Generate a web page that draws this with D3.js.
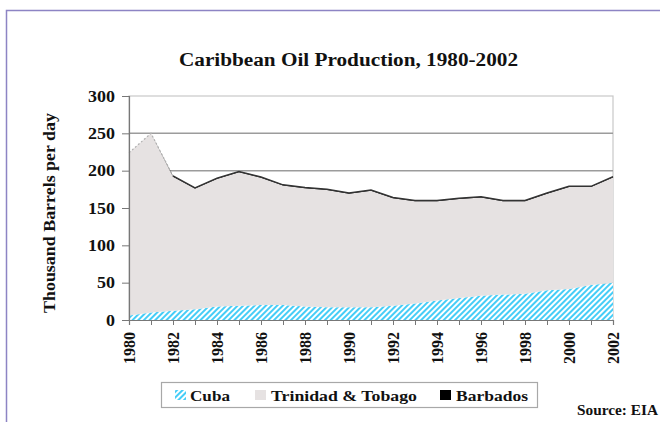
<!DOCTYPE html>
<html>
<head>
<meta charset="utf-8">
<script src="https://cdn.jsdelivr.net/npm/d3@7"></script>
<style>
  body { margin: 0; background: #fff; }
  text { font-family: "Liberation Serif", "Times New Roman", serif; font-weight: bold; fill: #111; }
</style>
</head>
<body>
<div id="chart"></div>
<script>
// values (thousand barrels per day)
var years = d3.range(1980, 2003);
var cuba = [6, 10, 12.5, 14.5, 18, 19, 20, 20, 18, 17, 17, 17, 19, 22, 26, 29.5, 32.5, 34, 35, 40, 41.5, 47, 50];
var trinidad = [218, 240, 179.5, 161.5, 171, 179, 170.5, 160, 158.5, 157, 152, 156, 144, 137, 133, 132.5, 131.5, 125, 124, 129, 136.5, 131, 141];
var barbados = [0, 0, 1, 1, 1, 1, 1, 1, 1, 1, 1, 1, 1, 1, 1, 1, 1, 1, 1, 1, 1, 1, 1];
var yTicks = [0, 50, 100, 150, 200, 250, 300];
var xLabelYears = d3.range(1980, 2003, 2);

var svgWidth = 660;
var svgHeight = 422;

var margin = { top: 96, right: 47, bottom: 102, left: 129 };
var width = 613 - margin.left;
var height = 320 - margin.top;

var svg = d3.select("#chart")
    .append("svg")
    .attr("width", svgWidth)
    .attr("height", svgHeight);

// hatch for Cuba
var defs = svg.append("defs");
var pat = defs.append("pattern")
    .attr("id", "hatch")
    .attr("patternUnits", "userSpaceOnUse")
    .attr("width", 4)
    .attr("height", 4)
    .attr("patternTransform", "rotate(45)");
pat.append("rect").attr("width", 4).attr("height", 4).attr("fill", "#fff");
pat.append("line")
    .attr("x1", 1).attr("y1", 0).attr("x2", 1).attr("y2", 4)
    .attr("stroke", "#3ccbf7").attr("stroke-width", 1.9);

// outer frame (purple)
svg.append("path")
    .attr("d", "M6.5,422 L6.5,10.5 L660,10.5")
    .attr("fill", "none")
    .attr("stroke", "#8d84c4")
    .attr("stroke-width", 1.5);

// title (the original text is a bit stretched, so fix its length)
svg.append("text")
    .attr("x", 179)
    .attr("y", 66)
    .attr("textLength", 339)
    .attr("lengthAdjust", "spacingAndGlyphs")
    .style("font-size", "18px")
    .text("Caribbean Oil Production, 1980-2002");

var chartGroup = svg.append("g")
    .attr("transform", `translate(${margin.left}, ${margin.top})`);

var xScale = d3.scaleLinear().domain([1980, 2002]).range([0, width]);
var yScale = d3.scaleLinear().domain([0, 300]).range([height, 0]);

// stack data
var table = years.map(function(y, i) {
    return { year: y, cuba: cuba[i], trinidad: trinidad[i], barbados: barbados[i] };
});
var stack = d3.stack().keys(["cuba", "trinidad", "barbados"]);
var series = stack(table);

// plot border and gridlines
chartGroup.append("rect")
    .attr("width", width)
    .attr("height", height)
    .attr("fill", "#fff")
    .attr("stroke", "#c8c8c8")
    .attr("stroke-width", 1.2);

chartGroup.selectAll(".grid")
    .data(yTicks.filter(d => d > 0 && d < 300))
    .enter()
    .append("line")
    .attr("x1", 0)
    .attr("x2", width)
    .attr("y1", d => yScale(d))
    .attr("y2", d => yScale(d))
    .attr("stroke", "#9c9c9c")
    .attr("stroke-width", 1.5);

var area = d3.area()
    .x(d => xScale(d.data.year))
    .y0(d => yScale(d[0]))
    .y1(d => yScale(d[1]));

var fills = { cuba: "url(#hatch)", trinidad: "#e6e2e2", barbados: "#000" };

chartGroup.selectAll(".layer")
    .data(series)
    .enter()
    .append("path")
    .attr("class", "layer")
    .attr("d", area)
    .attr("fill", d => fills[d.key]);

// top edge of Barbados
var topSeries = series[2];
var topLine = d3.line()
    .x(d => xScale(d.data.year))
    .y(d => yScale(d[1]));

chartGroup.append("path")
    .attr("d", topLine(topSeries.slice(0, 3)))
    .attr("fill", "none")
    .attr("stroke", "#b0b0b0")
    .attr("stroke-width", 1.2)
    .attr("stroke-dasharray", "2,2");

chartGroup.append("path")
    .attr("d", topLine(topSeries.slice(2)))
    .attr("fill", "none")
    .attr("stroke", "#333")
    .attr("stroke-width", 1.5);

// y axis
var leftAxis = d3.axisLeft(yScale)
    .tickValues(yTicks)
    .tickSize(7)
    .tickPadding(7);

var yAxis = chartGroup.append("g").call(leftAxis);
yAxis.select(".domain").attr("stroke", "#777").attr("stroke-width", 1.2);
yAxis.selectAll(".tick line").attr("stroke", "#777");
yAxis.selectAll("text")
    .style("font-family", "Liberation Serif, serif")
    .style("font-weight", "bold")
    .style("font-size", "16px")
    .attr("fill", "#111")
    .attr("textLength", d => String(d).length * 9)
    .attr("lengthAdjust", "spacingAndGlyphs");

// x axis
var bottomAxis = d3.axisBottom(xScale)
    .tickValues(years)
    .tickSize(5)
    .tickFormat(d => xLabelYears.indexOf(d) >= 0 ? d : "");

var xAxis = chartGroup.append("g")
    .attr("transform", `translate(0, ${height})`)
    .call(bottomAxis);
xAxis.select(".domain").attr("stroke", "#777").attr("stroke-width", 1.2);
xAxis.selectAll(".tick line").attr("stroke", "#777");
xAxis.selectAll("text")
    .style("font-family", "Liberation Serif, serif")
    .style("font-weight", "bold")
    .style("font-size", "16px")
    .attr("fill", "#111")
    .attr("transform", "rotate(-90)")
    .attr("text-anchor", "end")
    .attr("x", -12)
    .attr("y", 0)
    .attr("dy", "0.35em");

// y axis title
svg.append("text")
    .attr("transform", "rotate(-90)")
    .attr("x", -213)
    .attr("y", 55)
    .attr("text-anchor", "middle")
    .attr("textLength", 200)
    .attr("lengthAdjust", "spacingAndGlyphs")
    .style("font-size", "16px")
    .text("Thousand Barrels per day");

// legend
var legend = svg.append("g");
legend.append("rect")
    .attr("x", 161.5)
    .attr("y", 382.5)
    .attr("width", 376)
    .attr("height", 25)
    .attr("fill", "#fff")
    .attr("stroke", "#a8a8a8")
    .attr("stroke-width", 1.2);

var legendItems = [
    { name: "Cuba", key: "cuba", x: 175, tx: 190, len: 40 },
    { name: "Trinidad & Tobago", key: "trinidad", x: 255, tx: 271, len: 146 },
    { name: "Barbados", key: "barbados", x: 440, tx: 456, len: 72 }
];

legendItems.forEach(function(d) {
    legend.append("rect")
        .attr("x", d.x)
        .attr("y", 390)
        .attr("width", 11)
        .attr("height", 10)
        .attr("fill", fills[d.key]);
    legend.append("text")
        .attr("x", d.tx)
        .attr("y", 400.5)
        .attr("textLength", d.len)
        .attr("lengthAdjust", "spacingAndGlyphs")
        .style("font-size", "15px")
        .text(d.name);
});

// source
svg.append("text")
    .attr("x", 577)
    .attr("y", 415)
    .attr("textLength", 81)
    .attr("lengthAdjust", "spacingAndGlyphs")
    .style("font-size", "14px")
    .text("Source: EIA");
</script>
</body>
</html>
